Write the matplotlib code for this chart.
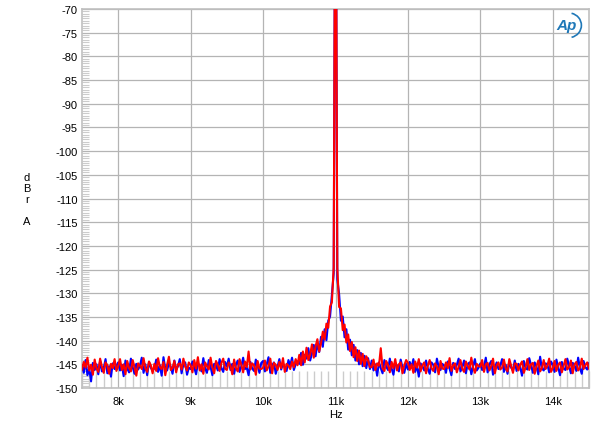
"""
FFT spectrum of an 11 kHz tone, both channels, 7.5k to 14.5k Hz.
"""
import numpy as np
from matplotlib import pyplot as plt
from matplotlib.patches import Arc
from matplotlib.ticker import MultipleLocator, FuncFormatter

# level in dBrA, one value every 25 Hz starting at 7500 Hz
f_start = 7500
f_step = 25

blue = [
    -145.2, -146.8, -144.1, -147.3, -145.9, -148.6, -144.7, -146.2, -145.0, -147.1,
    -144.3, -146.5, -145.8, -143.9, -146.9, -145.4, -147.6, -144.8, -146.0, -145.3,
    -144.6, -146.3, -145.1, -147.5, -144.2, -145.9, -146.7, -143.8, -145.6, -147.0,
    -144.9, -146.1, -145.3, -143.6, -146.8, -145.0, -147.3, -144.5, -145.7, -146.4,
    -145.8, -144.0, -146.6, -145.2, -147.4, -143.5, -145.9, -146.3, -144.7, -145.5,
    -147.0, -144.2, -146.1, -145.4, -143.9, -146.9, -145.0, -144.6, -147.2, -145.7,
    -146.0, -144.4, -145.7, -147.1, -144.8, -145.3, -146.5, -143.7, -145.9, -146.8,
    -144.1, -145.5, -147.3, -144.9, -145.2, -146.3, -143.9, -145.8, -146.6, -144.5,
    -145.5, -143.8, -146.2, -144.9, -147.0, -145.1, -144.2, -146.6, -145.4, -143.6,
    -146.0, -145.7, -147.3, -144.5, -145.9, -146.4, -144.0, -145.3, -146.8, -144.7,
    -144.3, -146.5, -145.0, -143.5, -146.8, -145.2, -144.6, -147.0, -145.5, -143.9,
    -146.1, -144.8, -145.7, -146.4, -144.1, -145.3, -143.6, -146.2, -145.0, -144.4,
    -144.9, -142.6, -145.1, -143.0, -143.8, -141.6, -144.2, -142.7, -140.9, -143.3,
    -140.5, -142.4, -139.2, -141.3, -137.6, -139.9, -135.8, -134.9, -130.4, -125.8,
    -20.0, -127.0, -130.2, -135.8, -134.9, -139.3, -137.6, -141.9, -139.8, -143.1,
    -140.9, -144.2, -142.0, -145.0, -142.6, -145.4, -143.2, -145.8, -143.7, -146.0,
    -144.2, -146.3, -145.0, -147.4, -144.6, -145.8, -146.9, -144.1, -145.5, -146.2,
    -143.8, -145.9, -147.2, -144.7, -145.3, -146.5, -144.0, -145.7, -146.8, -144.9,
    -146.1, -144.5, -145.7, -143.9, -146.6, -145.2, -147.6, -144.8, -145.4, -146.3,
    -144.2, -145.9, -147.0, -144.6, -145.1, -146.7, -143.8, -145.6, -146.2, -144.9,
    -145.3, -146.8, -144.4, -145.9, -147.3, -144.7, -146.0, -145.1, -143.8, -146.5,
    -145.6, -144.2, -146.9, -145.0, -144.6, -147.1, -145.4, -143.9, -146.3, -145.7,
    -144.8, -146.2, -145.5, -143.6, -146.7, -145.0, -144.3, -147.2, -145.8, -144.6,
    -146.0, -145.3, -143.9, -146.6, -145.1, -147.0, -144.5, -145.7, -146.3, -144.2,
    -146.4, -144.9, -145.6, -147.4, -144.3, -145.8, -146.1, -143.7, -145.2, -146.8,
    -144.6, -145.5, -147.1, -143.4, -145.9, -146.3, -144.8, -145.0, -146.7, -144.4,
    -145.1, -146.6, -144.0, -145.7, -147.3, -144.5, -145.9, -146.2, -143.8, -145.4,
    -146.9, -144.7, -145.2, -146.4, -143.6, -145.8, -147.0, -144.3, -145.6, -146.1,
    -144.8,
]

red = [
    -146.1, -144.5, -145.7, -143.6, -146.3, -145.1, -147.2, -144.0, -145.9, -146.6,
    -143.8, -145.5, -146.8, -144.6, -145.2, -147.0, -144.9, -145.8, -143.9, -146.4,
    -145.4, -143.9, -146.2, -145.0, -147.1, -144.3, -145.8, -146.5, -144.1, -145.6,
    -147.4, -144.8, -145.3, -146.0, -143.7, -145.9, -146.6, -144.4, -145.2, -146.9,
    -144.9, -146.4, -143.7, -145.6, -146.0, -144.5, -147.3, -145.1, -143.4, -146.2,
    -145.8, -144.3, -146.7, -145.0, -144.8, -146.1, -143.8, -145.5, -146.3, -144.6,
    -145.2, -146.7, -144.1, -145.9, -143.5, -146.3, -145.0, -147.0, -144.6, -145.4,
    -146.1, -143.6, -145.7, -146.9, -144.3, -145.1, -146.4, -144.7, -143.8, -145.9,
    -146.2, -144.6, -145.3, -147.1, -144.0, -145.8, -146.5, -143.9, -145.1, -146.7,
    -144.4, -145.6, -142.3, -146.1, -144.8, -145.2, -147.2, -144.3, -145.9, -146.0,
    -145.7, -144.2, -146.3, -145.4, -143.8, -146.9, -144.7, -145.1, -146.2, -144.5,
    -145.8, -143.7, -146.6, -144.9, -145.3, -146.0, -144.4, -145.6, -143.9, -145.2,
    -143.0, -145.2, -142.3, -144.6, -141.5, -144.1, -142.9, -140.8, -143.6, -141.2,
    -139.7, -142.3, -140.6, -138.1, -139.8, -136.4, -137.3, -132.8, -131.9, -124.5,
    -20.0, -124.6, -132.9, -133.2, -137.8, -136.6, -140.4, -138.7, -142.2, -140.3,
    -143.5, -141.4, -144.3, -142.1, -144.9, -142.8, -145.4, -143.3, -144.2, -145.6,
    -145.6, -144.0, -146.2, -144.8, -145.3, -141.6, -145.9, -146.4, -144.3, -145.1,
    -146.7, -144.5, -145.8, -143.9, -146.3, -145.0, -144.6, -146.9, -145.2, -144.1,
    -144.7, -146.2, -145.0, -146.8, -144.4, -145.7, -143.9, -146.5, -145.2, -144.6,
    -146.9, -145.3, -144.1, -145.8, -146.4, -144.8, -145.5, -147.1, -144.3, -145.9,
    -146.0, -144.6, -145.8, -143.7, -146.4, -145.2, -144.8, -146.7, -145.5, -144.1,
    -145.9, -146.6, -144.4, -145.3, -146.1, -143.6, -145.7, -146.8, -144.9, -145.4,
    -145.5, -144.1, -146.6, -145.0, -144.7, -146.3, -145.4, -143.8, -146.9, -145.2,
    -144.6, -146.1, -145.7, -144.0, -145.9, -146.5, -143.9, -145.3, -146.8, -144.8,
    -144.9, -146.3, -145.1, -144.4, -146.8, -145.6, -143.9, -146.2, -145.0, -144.7,
    -147.0, -145.4, -144.2, -146.5, -145.8, -144.1, -146.0, -145.3, -143.8, -146.6,
    -145.8, -144.3, -146.4, -145.1, -144.6, -146.7, -145.3, -143.9, -146.1, -145.6,
    -144.2, -146.9, -145.0, -144.5, -146.3, -145.7, -143.8, -146.0, -145.2, -144.6,
    -145.9,
]

x_ticks = [8000, 9000, 10000, 11000, 12000, 13000, 14000]


def main():
    freq = f_start + f_step * np.arange(len(blue))

    plt.rcParams["font.family"] = ["Liberation Sans", "DejaVu Sans"]
    plt.rcParams["axes.unicode_minus"] = False
    fig = plt.figure(figsize=(6.0, 4.31), dpi=100)
    ax = fig.add_axes([82 / 600, 1 - 389 / 431, 507 / 600, 379 / 431])

    ax.plot(freq, blue, color="#0000ff", lw=1.5, zorder=3)
    ax.plot(freq, red, color="#ff0000", lw=1.5, zorder=4)

    ax.set_xlim(7500, 14500)
    ax.set_ylim(-150, -70)

    ax.set_xticks(x_ticks)
    ax.xaxis.set_major_formatter(FuncFormatter(lambda v, p: f"{int(v / 1000)}k"))
    ax.xaxis.set_minor_locator(MultipleLocator(100))
    ax.yaxis.set_major_locator(MultipleLocator(5))
    ax.yaxis.set_minor_locator(MultipleLocator(0.5))

    ax.tick_params(which="major", length=0, labelsize=8, pad=3)
    ax.tick_params(axis="x", which="major", pad=6)
    ax.tick_params(axis="x", which="minor", direction="in", length=12,
                   color="#cccccc", width=1)
    ax.tick_params(axis="y", which="minor", direction="in", length=5,
                   color="#cccccc", width=0.8)

    ax.grid(True, which="major", color="#b4b4b4", lw=0.9, zorder=0)
    for s in ax.spines.values():
        s.set_color("#c0c0c0")
        s.set_linewidth(1.2)

    ax.set_xlabel("Hz", fontsize=8, labelpad=2)
    fig.text(27 / 600, 1 - 200 / 431, "d\nB\nr\n\nA", fontsize=8,
             ha="center", va="center", multialignment="center", linespacing=1.15)

    # Audio Precision logo, top right
    ax.text(0.955, 0.957, "Ap", transform=ax.transAxes, fontsize=11,
            fontstyle="italic", fontweight="bold", color="#1f78b8",
            ha="center", va="center", zorder=6)
    ax.add_patch(Arc((0.96, 0.957), 0.05, 0.065, transform=ax.transAxes,
                     theta1=-80, theta2=80, color="#1f78b8", lw=1.2, zorder=6))

    fig.savefig("out.png", dpi=100)


if __name__ == "__main__":
    main()
